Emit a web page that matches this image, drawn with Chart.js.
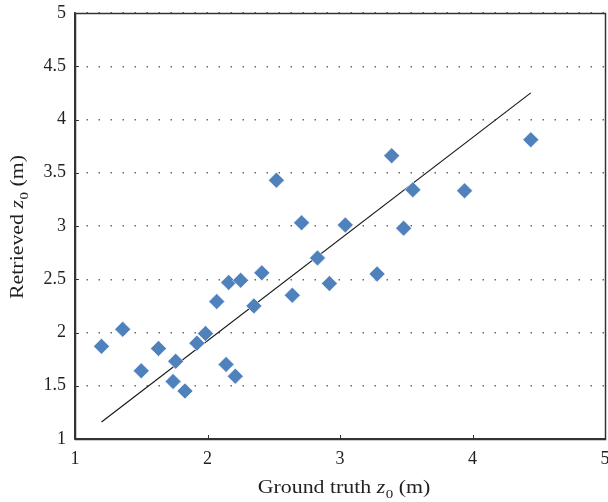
<!DOCTYPE html>
<html>
<head>
<meta charset="utf-8">
<script src="https://cdn.jsdelivr.net/npm/chart.js@4/dist/chart.umd.min.js"></script>
<style>
  html, body { margin: 0; padding: 0; background: #ffffff; }
  #wrap { width: 608px; height: 502px; position: relative; }
</style>
</head>
<body>
<div id="wrap"><canvas id="c" width="608" height="502"></canvas></div>
<script>
// ---- data ----
const groundTruth = [1.20, 1.36, 1.50, 1.63, 1.76, 1.74, 1.83, 1.92, 1.985, 2.07, 2.16, 2.25, 2.41, 2.14, 2.21, 2.35, 2.64, 2.71, 2.83, 2.92, 2.52, 3.04, 3.48, 3.28, 3.39, 3.55, 3.94, 4.44];
const retrieved   = [1.87, 2.03, 1.64, 1.85, 1.73, 1.54, 1.45, 1.90, 1.99, 2.29, 2.47, 2.49, 2.56, 1.70, 1.59, 2.25, 2.35, 3.03, 2.70, 2.46, 3.43, 3.01, 2.98, 2.55, 3.66, 3.34, 3.33, 3.81];
const fitLineX = [1.20, 4.44];
const fitLineY = [1.16, 4.25];
const xTicks = [1, 2, 3, 4, 5];
const yTicks = [1, 1.5, 2, 2.5, 3, 3.5, 4, 4.5, 5];
const xTitleParts = ["Ground truth ", "z", "0", " (m)"];
const yTitleParts = ["Retrieved ", "z", "0", " (m)"];

const pointsData = groundTruth.map((x, i) => ({ x: x, y: retrieved[i] }));
const lineData = fitLineX.map((x, i) => ({ x: x, y: fitLineY[i] }));

const serif = "'Liberation Serif', 'DejaVu Serif', serif";
const textColor = '#231f20';

function drawTitle(ctx, parts, size) {
  const f1 = size + "px " + serif;
  const f2 = "italic " + size + "px " + serif;
  const f3 = Math.round(size * 0.7) + "px " + serif;
  ctx.font = f1; const w0 = ctx.measureText(parts[0]).width;
  ctx.font = f2; const w1 = ctx.measureText(parts[1]).width;
  ctx.font = f3; const w2 = ctx.measureText(parts[2]).width;
  ctx.font = f1; const w3 = ctx.measureText(parts[3]).width;
  const total = w0 + w1 + w2 + w3 + 0.5;
  let x = -total / 2;
  ctx.textBaseline = 'alphabetic';
  ctx.textAlign = 'left';
  ctx.fillStyle = textColor;
  ctx.font = f1; ctx.fillText(parts[0], x, 0); x += w0;
  ctx.font = f2; ctx.fillText(parts[1], x, 0); x += w1 + 0.5;
  ctx.font = f3; ctx.fillText(parts[2], x, size * 0.28); x += w2;
  ctx.font = f1; ctx.fillText(parts[3], x, 0);
}

const framePlugin = {
  id: 'frame',
  afterDatasetsDraw(chart) {
    const { ctx, chartArea: a, scales } = chart;
    ctx.save();
    ctx.strokeStyle = '#333333';
    ctx.lineWidth = 1;
    ctx.beginPath();
    xTicks.forEach(v => {
      const px = Math.round(scales.x.getPixelForValue(v)) + 0.5;
      ctx.moveTo(px, a.bottom); ctx.lineTo(px, a.bottom - 4);
    });
    yTicks.forEach(v => {
      const py = Math.round(scales.y.getPixelForValue(v)) + 0.5;
      ctx.moveTo(a.left, py); ctx.lineTo(a.left + 4, py);
    });
    ctx.stroke();
    ctx.lineWidth = 1.5;
    ctx.strokeRect(Math.round(a.left) + 0.5, Math.round(a.top) + 0.5,
                   Math.round(a.right - a.left), Math.round(a.bottom - a.top));
    ctx.restore();
  },
  afterDraw(chart) {
    const { ctx, chartArea: a } = chart;
    ctx.save();
    ctx.translate((a.left + a.right) / 2 + 4, 493);
    ctx.scale(1.15, 1);
    drawTitle(ctx, xTitleParts, 19);
    ctx.restore();
    ctx.save();
    ctx.translate(23, (a.top + a.bottom) / 2 + 1);
    ctx.rotate(-Math.PI / 2);
    ctx.scale(1.15, 1);
    drawTitle(ctx, yTitleParts, 19);
    ctx.restore();
  }
};

new Chart(document.getElementById('c'), {
  type: 'scatter',
  data: {
    datasets: [
      {
        type: 'line',
        label: 'Fit',
        data: lineData,
        borderColor: '#1a1a1a',
        borderWidth: 1.2,
        pointRadius: 0,
        fill: false,
        order: 2
      },
      {
        label: 'Retrieved',
        data: pointsData,
        pointStyle: 'rectRot',
        pointRadius: 8,
        pointBackgroundColor: '#4f81bd',
        pointBorderColor: '#ffffff',
        pointBorderWidth: 0.6,
        order: 1
      }
    ]
  },
  options: {
    responsive: false,
    animation: false,
    devicePixelRatio: 1,
    layout: { autoPadding: false, padding: { top: 13, right: 3, left: 0, bottom: 0 } },
    plugins: { legend: { display: false }, tooltip: { enabled: false } },
    scales: {
      x: {
        type: 'linear',
        min: 1, max: 5,
        afterBuildTicks(s) { s.ticks = xTicks.map(v => ({ value: v })); },
        afterFit(s) { s.height = 63; s.paddingLeft = 0; s.paddingRight = 0; },
        grid: { display: false, drawTicks: false },
        border: { display: true, color: '#333333', width: 1.5 },
        ticks: { padding: 9, color: textColor, font: { family: serif, size: 18 }, maxRotation: 0,
                 callback: v => String(v) },
        title: { display: false }
      },
      y: {
        type: 'linear',
        min: 1, max: 5,
        afterBuildTicks(s) { s.ticks = yTicks.map(v => ({ value: v })); },
        afterFit(s) { s.width = 75; s.paddingTop = 0; s.paddingBottom = 0; },
        grid: { display: true, drawTicks: false, color: '#6b6b6b', lineWidth: 1.5 },
        border: { display: true, color: '#333333', width: 1.5, dash: [1.5, 10.5], dashOffset: 1 },
        ticks: { padding: 9, color: textColor, font: { family: serif, size: 18 },
                 callback: v => String(v) },
        title: { display: false }
      }
    }
  },
  plugins: [framePlugin]
});
</script>
</body>
</html>
